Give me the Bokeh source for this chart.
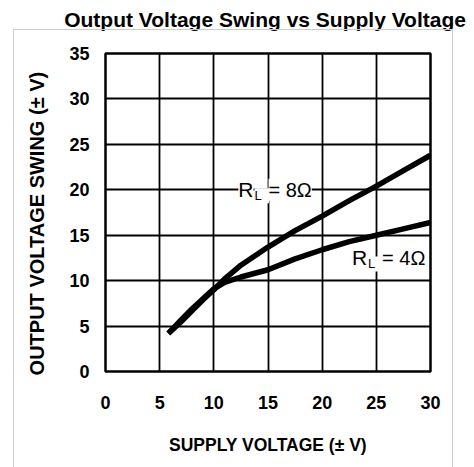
from bokeh.plotting import figure
from bokeh.models import Range1d, Label, FixedTicker, InlineStyleSheet, LinearAxis
from bokeh.embed import file_html
from bokeh.resources import INLINE

# ---- data ----
supply_v = [5.8, 7, 8, 9, 10, 11, 12.5, 15, 17.5, 20, 22.5, 25, 27.5, 30]
swing_8ohm = [4.2, 5.5, 6.7, 7.9, 9.0, 10.2, 11.7, 13.7, 15.5, 17.1, 18.8, 20.4, 22.1, 23.8]
swing_4ohm = [4.2, 5.7, 6.9, 8.0, 9.1, 9.8, 10.4, 11.2, 12.4, 13.4, 14.3, 15.0, 15.7, 16.4]
x_ticks = [0, 5, 10, 15, 20, 25, 30]
y_ticks = [0, 5, 10, 15, 20, 25, 30, 35]

title_text = "Output Voltage Swing vs Supply Voltage"
x_label = "SUPPLY VOLTAGE (\u00b1 V)"
y_label = "OUTPUT VOLTAGE SWING (\u00b1 V)"

FONT = "Liberation Sans"
NBSP = "\u00a0"

p = figure(width=474, height=467, output_backend="svg", toolbar_location=None,
           x_range=Range1d(0, 30), y_range=Range1d(0, 35),
           min_border_left=105, min_border_right=44, min_border_top=53, min_border_bottom=96)

p.outline_line_color = "black"
p.outline_line_width = 2.5
p.background_fill_color = "white"
p.border_fill_color = "white"

bottom = p.below[0]
left = p.left[0]

# title drawn as the label of an empty top axis (precise placement)
top = LinearAxis(ticker=FixedTicker(ticks=[]), axis_label=title_text + NBSP)
p.add_layout(top, "above")

for ax in (bottom, left, top):
    ax.axis_line_color = None
    ax.major_tick_line_color = None
    ax.minor_tick_line_color = None
    ax.major_tick_out = 0
    ax.major_tick_in = 0
    ax.major_label_text_font = FONT
    ax.major_label_text_font_style = "bold"
    ax.major_label_text_font_size = "18px"
    ax.major_label_text_color = "black"
    ax.axis_label_text_font = FONT
    ax.axis_label_text_font_style = "bold"
    ax.axis_label_text_color = "black"

top.axis_label_text_font_size = "21px"
top.major_label_standoff = 0
top.axis_label_standoff = 23

bottom.ticker = FixedTicker(ticks=x_ticks)
left.ticker = FixedTicker(ticks=y_ticks)
bottom.axis_label = x_label
left.axis_label = y_label + NBSP * 4
bottom.axis_label_text_font_size = "17.5px"
left.axis_label_text_font_size = "20px"
bottom.major_label_standoff = 24
bottom.axis_label_standoff = 23
left.major_label_standoff = 16
left.axis_label_standoff = 18

p.xgrid.grid_line_color = "black"
p.ygrid.grid_line_color = "black"
p.xgrid.ticker = FixedTicker(ticks=x_ticks)
p.ygrid.ticker = FixedTicker(ticks=y_ticks)
p.grid.grid_line_width = 1.8
p.grid.grid_line_alpha = 1.0

p.line(supply_v, swing_8ohm, line_color="black", line_width=5.5)
p.line(supply_v, swing_4ohm, line_color="black", line_width=5.5)

# R_L labels ("=" anchored at x, y)
def rl_label(x, y, tail):
    p.add_layout(Label(x=x, y=y, text="R", text_font=FONT, text_font_size="21px",
                       text_align="right", text_baseline="middle", x_offset=-12,
                       background_fill_color="white", text_color="black"))
    p.add_layout(Label(x=x, y=y, text="L" + NBSP * 2, text_font=FONT, text_font_size="13px",
                       text_align="left", text_baseline="middle", x_offset=-11, y_offset=-6,
                       background_fill_color="white", text_color="black"))
    p.add_layout(Label(x=x, y=y, text=tail, text_font=FONT, text_font_size="20px",
                       text_align="left", text_baseline="middle", x_offset=3,
                       background_fill_color="white", text_color="black"))

rl_label(14.77, 20.0, "= 8\u03a9")
rl_label(25.25, 12.5, "= 4\u03a9")

# light frame around the panel (page decoration)
p.stylesheets = [InlineStyleSheet(css=(
    ":host { position: relative; }"
    ":host::after { content: ''; position: absolute; left: 13px; top: 29px; "
    "width: 438px; height: 600px; border: 1px solid #cccccc; pointer-events: none; }"
))]

open("out.html", "w").write(file_html(p, INLINE))
